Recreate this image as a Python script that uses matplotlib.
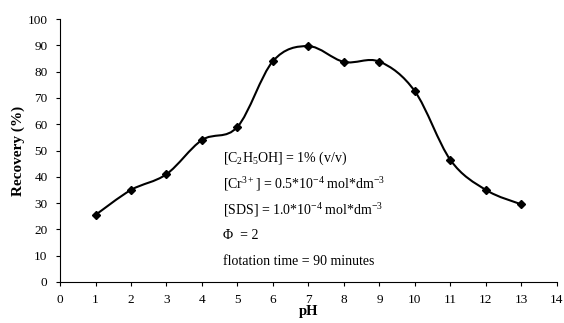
import numpy as np
import matplotlib
matplotlib.use("Agg")
import matplotlib.pyplot as plt
from matplotlib.path import Path
from matplotlib.patches import PathPatch

plt.rcParams['font.family'] = ['Liberation Serif', 'DejaVu Serif']
plt.rcParams['mathtext.fontset'] = 'custom'
plt.rcParams['mathtext.rm'] = 'Liberation Serif'
plt.rcParams['mathtext.it'] = 'Liberation Serif:italic'
plt.rcParams['mathtext.bf'] = 'Liberation Serif:bold'

ph = [1, 2, 3, 4, 5, 6, 7, 8, 9, 10, 11, 12, 13]
recovery = [25.5, 35, 41, 54, 59, 84, 89.7, 83.7, 83.8, 72.5, 46.4, 35, 29.5]
xticks = list(range(0, 15))
yticks = list(range(0, 101, 10))
notes = [r'[C$_2$H$_5$OH] = 1% (v/v)',
         r'[Cr$^{3+}$] = 0.5*10$^{-4}$ mol*dm$^{-3}$',
         r'[SDS] = 1.0*10$^{-4}$ mol*dm$^{-3}$',
         r'Φ  = 2',
         'flotation time = 90 minutes']

fig = plt.figure(figsize=(5.64, 3.23), dpi=100)
ax = fig.add_axes([0.1064, 0.127, 0.881, 0.814])

# smoothed line (Excel-style Bezier smoothing)
pts = np.column_stack([ph, recovery]).astype(float)
n = len(pts)
verts = [tuple(pts[0])]
codes = [Path.MOVETO]
for i in range(n - 1):
    p0 = pts[i - 1] if i > 0 else pts[i]
    p1 = pts[i]
    p2 = pts[i + 1]
    p3 = pts[i + 2] if i + 2 < n else pts[i + 1]
    c1 = p1 + (p2 - p0) / 6.0
    c2 = p2 - (p3 - p1) / 6.0
    verts += [tuple(c1), tuple(c2), tuple(p2)]
    codes += [Path.CURVE4] * 3
ax.add_patch(PathPatch(Path(verts, codes), facecolor='none', edgecolor='black', lw=1.5))
ax.plot(ph, recovery, linestyle='none', marker='D', markersize=4.5, color='black')

ax.set_xlim(0, 14)
ax.set_ylim(0, 100)
ax.set_xticks(xticks)
ax.set_yticks(yticks)
ax.spines['top'].set_visible(False)
ax.spines['right'].set_visible(False)
ax.tick_params(direction='out', length=3, width=0.8, labelsize=9.5, pad=6)
ax.set_xlabel('pH', fontsize=10.5, fontweight='bold', labelpad=-1)
ax.set_ylabel('Recovery (%)', fontsize=11, fontweight='bold', labelpad=2)

y0 = 47
for k, t in enumerate(notes):
    ax.text(4.6, y0 - k * 9.8, t, fontsize=10, ha='left', va='center')

fig.savefig('out.png', dpi=100)
